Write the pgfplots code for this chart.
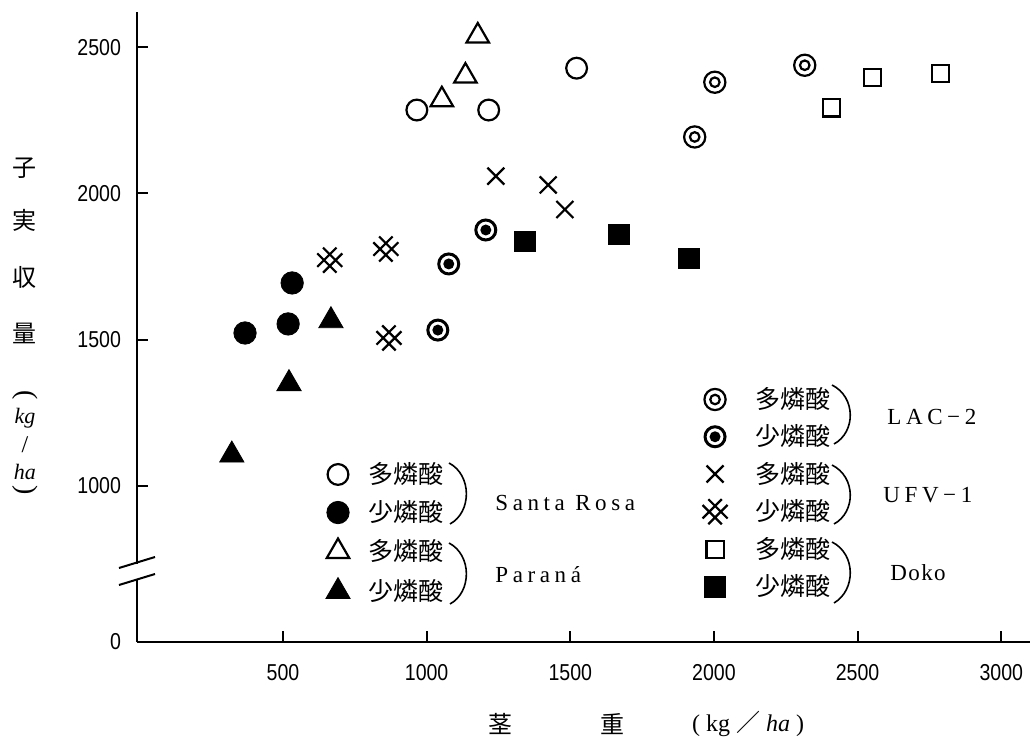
\documentclass[border=0pt]{standalone}
\usepackage{fontspec}
\setmainfont{Liberation Serif}
\newfontfamily\cjk{Noto Sans CJK JP}
\newfontfamily\tickfont[FakeStretch=0.85]{Liberation Sans}
\newfontfamily\varfont[LetterSpace=20]{Liberation Serif}
\newfontfamily\varfontb[LetterSpace=6]{Liberation Serif}
\usepackage{pgfplots}
\pgfplotsset{compat=1.18}

\pgfdeclareplotmark{dcirc}{%
  \pgfpathcircle{\pgfpointorigin}{\pgfplotmarksize}\pgfusepathqstroke
  \pgfpathcircle{\pgfpointorigin}{0.45\pgfplotmarksize}\pgfusepathqstroke}
\pgfdeclareplotmark{bullc}{%
  \pgfpathcircle{\pgfpointorigin}{\pgfplotmarksize}\pgfusepathqstroke
  \pgfpathcircle{\pgfpointorigin}{0.55\pgfplotmarksize}\pgfusepathqfill}
\pgfdeclareplotmark{hashx}{%
  \pgftransformrotate{45}%
  \pgfpathmoveto{\pgfqpoint{-\pgfplotmarksize}{0.3\pgfplotmarksize}}%
  \pgfpathlineto{\pgfqpoint{\pgfplotmarksize}{0.3\pgfplotmarksize}}%
  \pgfpathmoveto{\pgfqpoint{-\pgfplotmarksize}{-0.3\pgfplotmarksize}}%
  \pgfpathlineto{\pgfqpoint{\pgfplotmarksize}{-0.3\pgfplotmarksize}}%
  \pgfpathmoveto{\pgfqpoint{0.3\pgfplotmarksize}{-\pgfplotmarksize}}%
  \pgfpathlineto{\pgfqpoint{0.3\pgfplotmarksize}{\pgfplotmarksize}}%
  \pgfpathmoveto{\pgfqpoint{-0.3\pgfplotmarksize}{-\pgfplotmarksize}}%
  \pgfpathlineto{\pgfqpoint{-0.3\pgfplotmarksize}{\pgfplotmarksize}}%
  \pgfusepathqstroke}

\begin{document}
\begin{tikzpicture}
\path[use as bounding box] (-68.5pt,-48.5pt) rectangle (447.5pt,321pt);
\begin{axis}[
  at={(0,0)}, anchor=south west,
  scale only axis, width=446.5pt, height=315pt,
  xmin=-8, xmax=3100, ymin=467, ymax=2620,
  axis x line*=bottom, axis y line*=left,
  axis line style={-, line width=1pt},
  xtick={500,1000,1500,2000,2500,3000},
  xticklabels={500,1000,1500,2000,2500,3000},
  ytick={467,1000,1500,2000,2500},
  yticklabels={0,1000,1500,2000,2500},
  tick align=inside, major tick length=5.5pt,
  tick style={line width=1pt, black},
  ticklabel style={font=\tickfont\fontsize{11.5}{12}\selectfont},
  xticklabel style={yshift=-7.5pt},
  yticklabel style={xshift=-4.5pt},
  clip=false,
  legend style={draw=none, fill=none, inner sep=0pt, outer sep=0pt,
    at={(0.6249,0.404)}, anchor=north west, row sep=6.6pt,
    font=\cjk\fontsize{12.5}{13}\selectfont, nodes={inner sep=0pt}},
  legend cell align=left,
  legend image code/.code={\draw[#1] plot coordinates {(0pt,0pt)};\path[draw=none,fill=none] (-10pt,0pt) -- (20pt,0pt);},
]
% Santa Rosa
\addplot[forget plot, only marks, mark=o, mark size=5.2pt, line width=1.1pt, black] coordinates {(966,2285) (1216,2285) (1522,2428)};
\addplot[forget plot, only marks, mark=*, mark size=5.6pt, black, fill=black] coordinates {(368,1523) (518,1554) (532,1694)};
% Parana
\addplot[forget plot, only marks, mark=triangle, mark size=6.5pt, line width=1.1pt, black] coordinates {(1053,2320) (1135,2401) (1178,2538)};
\addplot[forget plot, only marks, mark=triangle*, mark size=7pt, black, fill=black] coordinates {(322,1106) (521,1350) (667,1565)};
% LAC-2
\addplot[forget plot, only marks, mark=dcirc, mark size=5.3pt, line width=1.1pt, black] coordinates {(1933,2193) (2003,2380) (2316,2438)};
\addplot[forget plot, only marks, mark=bullc, mark size=5pt, line width=1.5pt, black, fill=black] coordinates {(1039,1533) (1077,1759) (1206,1875)};
% UFV-1
\addplot[forget plot, only marks, mark=x, mark size=6pt, line width=1.1pt, black] coordinates {(1241,2059) (1423,2029) (1481,1945)};
\addplot[forget plot, only marks, mark=hashx, mark size=6.8pt, line width=1.1pt, black] coordinates {(663,1772) (858,1810) (869,1506)};
% Doko
\addplot[forget plot, only marks, mark=square, mark size=4.3pt, line width=1.1pt, black] coordinates {(2409,2292) (2552,2396) (2789,2410)};
\addplot[forget plot, only marks, mark=square*, mark size=5.2pt, black, fill=black] coordinates {(1342,1836) (1670,1860) (1913,1778)};

\addlegendimage{only marks, mark=dcirc, mark size=5.3pt, line width=1.1pt, black}
\addlegendentry{多燐酸}
\addlegendimage{only marks, mark=bullc, mark size=5pt, line width=1.5pt, black, fill=black}
\addlegendentry{少燐酸}
\addlegendimage{only marks, mark=x, mark size=6pt, line width=1.1pt, black}
\addlegendentry{多燐酸}
\addlegendimage{only marks, mark=hashx, mark size=6.8pt, line width=1.1pt, black}
\addlegendentry{少燐酸}
\addlegendimage{only marks, mark=square, mark size=4.3pt, line width=1.1pt, black}
\addlegendentry{多燐酸}
\addlegendimage{only marks, mark=square*, mark size=5.2pt, black, fill=black}
\addlegendentry{少燐酸}
\end{axis}

\begin{axis}[
  at={(0,0)}, anchor=south west,
  scale only axis, width=446.5pt, height=315pt,
  xmin=-8, xmax=3100, ymin=467, ymax=2620,
  hide axis,
  legend style={draw=none, fill=none, inner sep=0pt, outer sep=0pt,
    at={(0.2027,0.285)}, anchor=north west, row sep=7pt,
    font=\cjk\fontsize{12.5}{13}\selectfont, nodes={inner sep=0pt}},
  legend cell align=left,
  legend image code/.code={\draw[#1] plot coordinates {(0pt,0pt)};\path[draw=none,fill=none] (-10pt,0pt) -- (15pt,0pt);},
]
\addlegendimage{only marks, mark=o, mark size=5.2pt, line width=1.1pt, black}
\addlegendentry{多燐酸}
\addlegendimage{only marks, mark=*, mark size=5.6pt, black, fill=black}
\addlegendentry{少燐酸}
\addlegendimage{only marks, mark=triangle, mark size=6.5pt, line width=1.1pt, black}
\addlegendentry{多燐酸}
\addlegendimage{only marks, mark=triangle*, mark size=7pt, black, fill=black}
\addlegendentry{少燐酸}
\end{axis}

\begin{scope}[x=0.5pt, y=-0.5pt, shift={(-137,-642)}]
  % axis break
  \fill[white] (132,563.5) rectangle (142,579.5);
  \draw[line width=1pt] (119,568) -- (155,557);
  \draw[line width=1pt] (119,585) -- (155,574);
  % braces
  \begin{scope}[line width=0.8pt]
    \draw (449,463) .. controls (472,475) and (472,512) .. (450,524);
    \draw (449,543) .. controls (472,555) and (472,592) .. (450,604);
    \draw (832,385) .. controls (856,397) and (856,432) .. (834,444);
    \draw (832,465) .. controls (856,477) and (856,512) .. (834,524);
    \draw (832,542) .. controls (856,554) and (856,590) .. (834,603);
  \end{scope}
  % variety names
  \begin{scope}[every node/.style={anchor=west, inner sep=0pt, font=\varfont\fontsize{11.5}{12}\selectfont}]
    \node at (495,503) {Santa Rosa};
    \node at (495,575) {Paraná};
    \node at (887,417) {LAC−2};
    \node at (883,495) {UFV−1};
    \node[font=\varfontb\fontsize{11.5}{12}\selectfont] at (890,573) {Doko};
  \end{scope}
  % y label
  \begin{scope}[every node/.style={inner sep=0pt, font=\cjk\fontsize{12}{12}\selectfont}]
    \node at (25,168) {子};
    \node at (25,220) {実};
    \node at (25,277) {収};
    \node at (25,333) {量};
    \node[rotate=-90, font=\fontsize{14}{14}\selectfont] at (25,395) {(};
    \node[font=\fontsize{11}{11}\selectfont\itshape] at (25,418) {kg};
    \node[font=\fontsize{12}{12}\selectfont] at (25,445) {/};
    \node[font=\fontsize{11}{11}\selectfont\itshape] at (25,472) {ha};
    \node[rotate=-90, font=\fontsize{14}{14}\selectfont] at (25,490) {)};
  \end{scope}
  % x label
  \begin{scope}[every node/.style={inner sep=0pt, font=\cjk\fontsize{12}{12}\selectfont}]
    \node at (500,724) {茎};
    \node at (612,724) {重};
    \node[font=\fontsize{12}{12}\selectfont] at (748,724) {( kg {\cjk ／} \textit{ha} )};
  \end{scope}
\end{scope}
\end{tikzpicture}
\end{document}
